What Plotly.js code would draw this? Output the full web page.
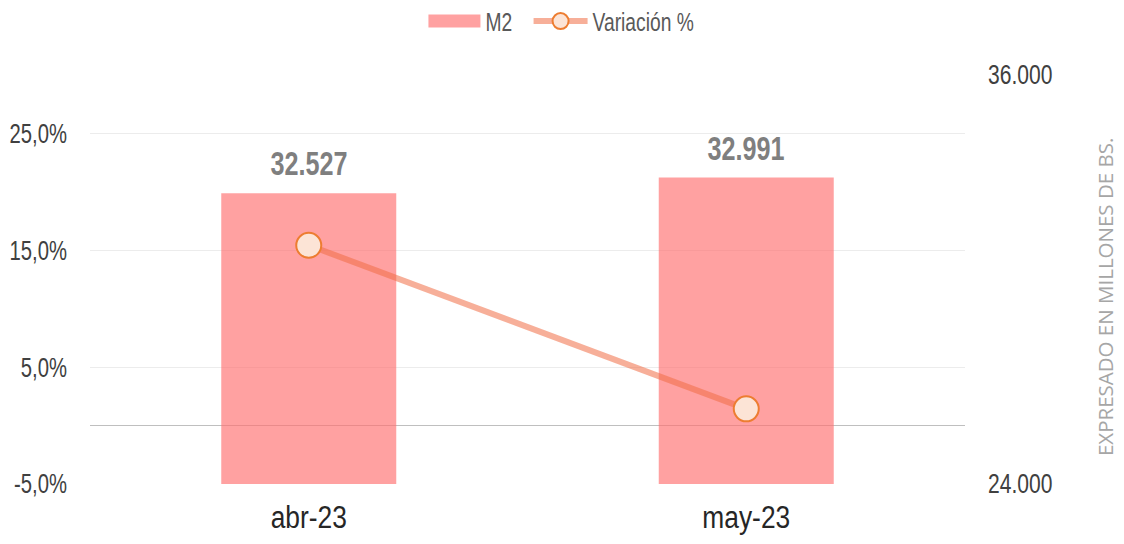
<!DOCTYPE html>
<html>
<head>
<meta charset="utf-8">
<script src="https://cdn.plot.ly/plotly-3.0.1.min.js"></script>
<style>
html,body{margin:0;padding:0;background:#fff;}
#chart{width:1124px;height:544px;}
</style>
</head>
<body>
<div id="chart"></div>
<script>
const categories = ["abr-23", "may-23"];
const m2Values = [32527, 32991];
const variationValues = [0.1543, 0.0143];
const leftTicks = [-0.05, 0.05, 0.15, 0.25];
const leftTickLabels = ["-5,0%", "5,0%", "15,0%", "25,0%"];
const rightTicks = [24000, 36000];
const rightTickLabels = ["24.000", "36.000"];

const FONT = '"Liberation Sans", "Arimo", sans-serif';

const traces = [
  {
    type: 'bar', name: 'M2', x: categories, y: m2Values, yaxis: 'y',
    marker: {color: 'rgba(255,110,110,0.65)'},
    hoverinfo: 'skip'
  },
  {
    type: 'scatter', mode: 'lines+markers', name: 'Variación %',
    x: categories, y: variationValues, yaxis: 'y2',
    line: {color: 'rgba(240,110,70,0.55)', width: 6},
    marker: {size: 25, color: '#FCE4D6', opacity: 1, line: {color: '#ED7D31', width: 2}},
    hoverinfo: 'skip'
  }
];

const annotations = categories.map((c, i) => ({
  x: c, y: m2Values[i], xref: 'x', yref: 'y',
  text: m2Values[i].toLocaleString('de-DE'),
  showarrow: false, yanchor: 'bottom', yshift: 9,
  font: {family: FONT, size: 34, weight: 'bold', color: '#7F7F7F'}
}));
annotations.push({
  xref: 'paper', yref: 'paper', x: 1.16, y: 0.457,
  text: 'EXPRESADO EN MILLONES DE BS.', textangle: -90, showarrow: false,
  xanchor: 'center', yanchor: 'middle',
  font: {family: '"Open Sans", sans-serif', size: 20.5, color: '#A6A6A6'}
});

const layout = {
  width: 1124, height: 544,
  margin: {l: 90, r: 159, t: 75, b: 60},
  paper_bgcolor: '#fff', plot_bgcolor: '#fff',
  separators: ',.',
  bargap: 0.6,
  showlegend: true,
  legend: {
    orientation: 'h', x: 0.5133, xanchor: 'center', y: 0.961, yanchor: 'middle',
    xref: 'container', yref: 'container',
    font: {family: FONT, size: 26, color: '#595959'},
    itemwidth: 56, traceorder: 'normal'
  },
  xaxis: {
    type: 'category', showgrid: false, zeroline: false, showline: false,
    ticks: '', ticklabelstandoff: 12,
    tickfont: {family: FONT, size: 31, color: '#262626'}
  },
  yaxis: {
    side: 'right', range: [24000, 36000], tickvals: rightTicks,
    ticktext: rightTickLabels, showgrid: false, zeroline: false, showline: false,
    ticks: '', ticklabelstandoff: 22,
    tickfont: {family: FONT, size: 27, color: '#404040'}
  },
  yaxis2: {
    overlaying: 'y', side: 'left',
    range: [-0.05, 0.30], tickvals: leftTicks, ticktext: leftTickLabels,
    showgrid: true, gridcolor: '#ECECEC', gridwidth: 1,
    zeroline: true, zerolinecolor: '#BFBFBF', zerolinewidth: 1,
    showline: false, ticks: '', ticklabelstandoff: 22,
    tickfont: {family: FONT, size: 27, color: '#404040'}
  },
  annotations: annotations
};

function squeezeEl(t, ratio) {
  const L = t.getComputedTextLength();
  if (L > 0) {
    t.setAttribute('textLength', (L * ratio).toFixed(2));
    t.setAttribute('lengthAdjust', 'spacingAndGlyphs');
  }
}
function squeeze(selector, ratio) {
  document.querySelectorAll(selector).forEach(t => squeezeEl(t, ratio));
}
function shiftX(el, dx) {
  const tr = el.getAttribute('transform') || '';
  el.setAttribute('transform', (tr + ' translate(' + dx.toFixed(2) + ',0)').trim());
}

Plotly.newPlot('chart', traces, layout, {displayModeBar: false, staticPlot: true}).then(() => {
  squeeze('#chart .ytick text', 0.78);
  squeeze('#chart .y2tick text', 0.75);
  squeeze('#chart .xtick text', 0.85);
  squeeze('#chart .legendtext', 0.74);
  document.querySelectorAll('#chart .annotation-text').forEach((t, i) => {
    if (i < categories.length) squeezeEl(t, 0.74);
  });

  document.querySelectorAll('#chart .legend .traces').forEach(g => {
    const text = g.querySelector('.legendtext');
    if (!text) return;
    const textLeft = text.getBoundingClientRect().left;
    const line = g.querySelector('.legendlines path');
    if (!line) {
      const p = g.querySelector('.legendpoints path');
      if (!p) return;
      p.setAttribute('d', 'M0,6.5H-52V-6.5H0Z');
      const r = p.getBoundingClientRect();
      shiftX(p, (textLeft - 5) - r.right);
    } else {
      const sym = g.querySelector('.legendsymbols path');
      line.setAttribute('d', 'M0,0h-54');
      const r = line.getBoundingClientRect();
      shiftX(line, (textLeft - 5) - r.right);
      if (sym) {
        const lr = line.getBoundingClientRect();
        const sr = sym.getBoundingClientRect();
        shiftX(sym, (lr.left + lr.right) / 2 - (sr.left + sr.right) / 2);
      }
    }
  });
});
</script>
</body>
</html>
